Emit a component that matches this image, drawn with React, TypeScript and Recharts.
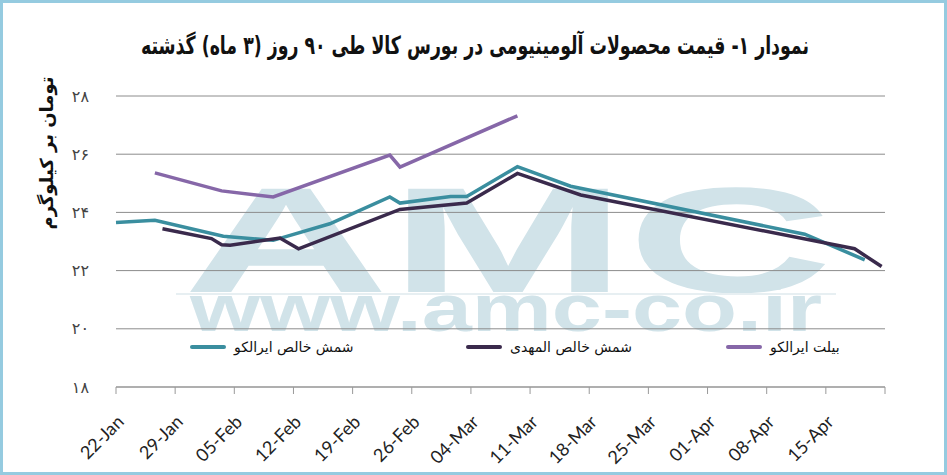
import React from 'react';
import { LineChart, Line, XAxis, YAxis, CartesianGrid } from 'recharts';

// days counted from 22-Jan
const tickDays = [0, 7, 14, 21, 28, 35, 42, 49, 56, 63, 70, 77, 84, 91];
const tickLabels = [
  '22-Jan', '29-Jan', '05-Feb', '12-Feb', '19-Feb', '26-Feb', '04-Mar',
  '11-Mar', '18-Mar', '25-Mar', '01-Apr', '08-Apr', '15-Apr', '',
];
const yTicks = [18, 20, 22, 24, 26, 28];

const iralcoDays = [0, 4.6, 12.7, 18.6, 25.3, 32.4, 33.6, 39.6, 41.5, 47.5, 53.8, 81.5, 88.6];
const iralcoValues = [23.65, 23.73, 23.18, 23.04, 23.61, 24.53, 24.32, 24.55, 24.55, 25.57, 24.9, 23.25, 22.37];

const mahdiDays = [5.5, 11.3, 12.5, 13.5, 19.4, 21.6, 33.6, 41.5, 47.5, 55, 87.4, 90.6];
const mahdiValues = [23.44, 23.1, 22.89, 22.87, 23.12, 22.75, 24.1, 24.32, 25.34, 24.6, 22.75, 22.14];

const billetDays = [4.6, 12.5, 18.6, 32.4, 33.6, 47.5];
const billetValues = [25.36, 24.74, 24.53, 25.97, 25.56, 27.32];

const seriesNames = ['شمش خالص ایرالکو', 'شمش خالص المهدی', 'بیلت ایرالکو'];
const seriesColors = ['#3a8e9f', '#3a2a4c', '#8667a8'];

const title = 'نمودار ۱- قیمت محصولات آلومینیومی در بورس کالا طی ۹۰ روز (۳ ماه) گذشته';
const yTitle = 'تومان بر کیلوگرم';

const toRows = (days: number[], vals: number[]) => days.map((d, i) => ({ day: d, v: vals[i] }));
const series = [
  toRows(iralcoDays, iralcoValues),
  toRows(mahdiDays, mahdiValues),
  toRows(billetDays, billetValues),
];

const faDigits = (n: number) => String(n).replace(/\d/g, (c) => '۰۱۲۳۴۵۶۷۸۹'[+c]);

const XTick = (props: any) => {
  const { x, y, payload } = props;
  const label = tickLabels[tickDays.indexOf(payload.value)] || '';
  return (
    <g transform={`translate(${x + 9},${y + 29})`}>
      <text x={0} y={0} textAnchor="end" transform="rotate(-45)" fill="#222" fontSize={18} fontFamily="Lato, sans-serif">
        {label}
      </text>
    </g>
  );
};

const legendPos = [190, 466, 726];

export default function App() {
  return (
    <div
      style={{
        position: 'absolute', left: 0, top: 0, width: 947, height: 475, boxSizing: 'border-box',
        border: '3px solid #95cbe0', background: '#fff', overflow: 'hidden', fontFamily: '"DejaVu Sans", sans-serif',
      }}
    >
      {/* watermark + title */}
      <svg width={947} height={475} style={{ position: 'absolute', left: -3, top: -3 }}>
        <text x={183} y={292} fontSize={150} fontWeight={700} fontFamily="Liberation Sans" fill="#d1e3e9"
          textLength={650} lengthAdjust="spacingAndGlyphs">AMC</text>
        <rect x={176} y={293} width={660} height={2} fill="#e7eff2" />
        <text x={190} y={331} fontSize={66} fontWeight={700} fontFamily="Liberation Sans" fill="#d1e3e9"
          textLength={632} lengthAdjust="spacingAndGlyphs">www.amc-co.ir</text>
        <text x={475} y={54} textAnchor="middle" direction="rtl" fontSize={25} fontWeight={700} fill="#111"
          textLength={668} lengthAdjust="spacingAndGlyphs">{title}</text>
      </svg>

      <div style={{ position: 'absolute', left: -3, top: -3 }}>
        <LineChart width={947} height={475} margin={{ top: 96, right: 62, bottom: 0, left: 56 }}>
          <CartesianGrid vertical={false} stroke="#8c8c8c" />
          <XAxis
            dataKey="day"
            type="number"
            domain={[0, 91]}
            ticks={tickDays}
            height={88}
            allowDuplicatedCategory={false}
            stroke="#999"
            tickSize={7}
            tickMargin={0}
            tick={<XTick />}
            interval={0}
          />
          <YAxis
            domain={[18, 28]}
            ticks={yTicks}
            width={60}
            axisLine={false}
            tickLine={false}
            tickSize={0}
            tickMargin={27}
            tickFormatter={faDigits}
            tick={{ fill: '#444', fontSize: 16, fontFamily: 'DejaVu Sans' }}
          />
          {series.map((rows, i) => (
            <Line
              key={i}
              data={rows}
              dataKey="v"
              name={seriesNames[i]}
              stroke={seriesColors[i]}
              strokeWidth={3.5}
              dot={false}
              type="linear"
              isAnimationActive={false}
            />
          ))}
          <text x={46} y={153} transform="rotate(-90 46 153)" textAnchor="middle" dominantBaseline="central"
            fontSize={18} fontWeight={700} fill="#111" direction="rtl">{yTitle}</text>
        </LineChart>
      </div>

      {seriesNames.map((name, i) => (
        <div key={name} style={{ position: 'absolute', left: legendPos[i] - 3, top: 336, display: 'flex', alignItems: 'center', fontSize: 14, color: '#111' }}>
          <span style={{ display: 'inline-block', width: 36, height: 4, background: seriesColors[i], borderRadius: 2, marginRight: 8 }} />
          <span dir="rtl">{name}</span>
        </div>
      ))}
    </div>
  );
}
